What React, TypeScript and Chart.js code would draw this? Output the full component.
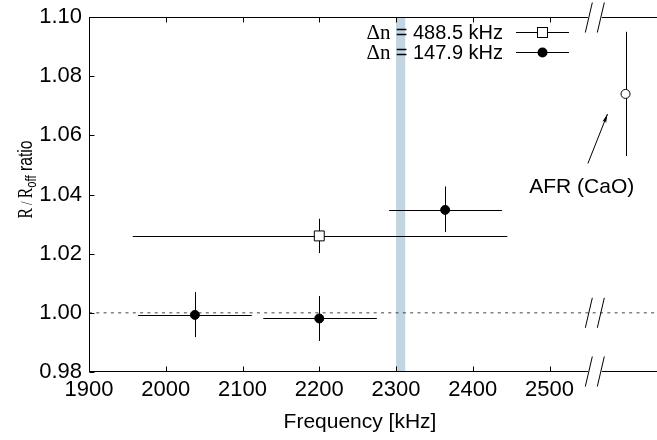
import React, { useEffect, useRef } from "react";
import { Chart, registerables } from "chart.js";
Chart.register(...registerables);

// ---- data ----
const wideFreq = [2200];
const wideRatio = [1.026];
const wideFreqLo = [1957];
const wideFreqHi = [2445];
const wideRatioLo = [1.0202];
const wideRatioHi = [1.0318];

const narrowFreq = [2038, 2200, 2364];
const narrowRatio = [0.9993, 0.9981, 1.0348];
const narrowFreqLo = [1964, 2127, 2291];
const narrowFreqHi = [2112, 2275, 2438];
const narrowRatioLo = [0.9918, 0.9905, 1.0273];
const narrowRatioHi = [1.007, 1.0057, 1.0427];

const afrFreq = [2599];
const afrRatio = [1.074];
const afrRatioLo = [1.053];
const afrRatioHi = [1.095];

const bandRange = [2300, 2312];
const referenceRatio = 1.0;
const xTickValues = [1900, 2000, 2100, 2200, 2300, 2400, 2500];
const yTickValues = [0.98, 1.0, 1.02, 1.04, 1.06, 1.08, 1.1];
const xRange = [1900, 2640];
const yRange = [0.98, 1.1];
const axisBreak = 2559;
const legendLabels = ["488.5 kHz", "147.9 kHz"];
const afrLabel = "AFR (CaO)";
const afrLabelPos = [2542, 1.0425];
const afrArrowTail = [2550, 1.0505];
const afrArrowHead = [2575.5, 1.0672];
const xTitle = "Frequency [kHz]";

const SANS = '"Liberation Sans", Arial, Helvetica, sans-serif';
const SERIF = '"Liberation Serif", "Times New Roman", serif';

const overlay = {
  id: "overlay",
  beforeDatasetsDraw(chart: any) {
    const { ctx, chartArea: ca } = chart;
    const x = chart.scales.x;
    const y = chart.scales.y;
    ctx.save();
    // shaded band
    ctx.fillStyle = "rgb(194,213,226)";
    const b0 = x.getPixelForValue(bandRange[0]);
    const b1 = x.getPixelForValue(bandRange[1]);
    ctx.fillRect(b0, ca.top, b1 - b0, ca.bottom - ca.top);

    // error bars
    ctx.strokeStyle = "#000";
    ctx.lineWidth = 1;
    const line = (x0: number, y0: number, x1: number, y1: number) => {
      ctx.beginPath();
      ctx.moveTo(x0, y0);
      ctx.lineTo(x1, y1);
      ctx.stroke();
    };
    const hbar = (lo: number, hi: number, v: number) => {
      const py = Math.round(y.getPixelForValue(v)) + 0.5;
      line(x.getPixelForValue(lo), py, x.getPixelForValue(hi), py);
    };
    const vbar = (f: number, lo: number, hi: number) => {
      const px = Math.round(x.getPixelForValue(f)) + 0.5;
      line(px, y.getPixelForValue(lo), px, y.getPixelForValue(hi));
    };
    wideFreq.forEach((f, i) => {
      hbar(wideFreqLo[i], wideFreqHi[i], wideRatio[i]);
      vbar(f, wideRatioLo[i], wideRatioHi[i]);
    });
    narrowFreq.forEach((f, i) => {
      hbar(narrowFreqLo[i], narrowFreqHi[i], narrowRatio[i]);
      vbar(f, narrowRatioLo[i], narrowRatioHi[i]);
    });
    afrFreq.forEach((f, i) => {
      vbar(f, afrRatioLo[i], afrRatioHi[i]);
    });
    ctx.restore();
  },
  afterDatasetsDraw(chart: any) {
    const { ctx, chartArea: ca } = chart;
    const x = chart.scales.x;
    const y = chart.scales.y;
    ctx.save();
    ctx.strokeStyle = "#000";
    ctx.fillStyle = "#000";
    ctx.lineWidth = 1;
    const line = (x0: number, y0: number, x1: number, y1: number) => {
      ctx.beginPath();
      ctx.moveTo(x0, y0);
      ctx.lineTo(x1, y1);
      ctx.stroke();
    };
    const L = Math.round(ca.left) + 0.5;
    const T = Math.round(ca.top) + 0.5;
    const B = Math.round(ca.bottom) - 0.5;
    const R = chart.width;
    const bx = x.getPixelForValue(axisBreak);
    // axes with break gap
    line(L, ca.top, L, ca.bottom);
    line(L, T, bx - 7, T);
    line(bx + 7, T, R, T);
    line(L, B, bx - 7, B);
    line(bx + 7, B, R, B);
    // inward ticks
    xTickValues.forEach((v) => {
      const px = Math.round(x.getPixelForValue(v)) + 0.5;
      line(px, B, px, B - 5);
      line(px, T, px, T + 5);
    });
    yTickValues.forEach((v) => {
      const py = Math.round(y.getPixelForValue(v)) + 0.5;
      line(L, py, L + 5, py);
    });
    // break marks
    const slash = (cy: number) => {
      [-6, 6].forEach((d) => line(bx + d - 3.5, cy + 15, bx + d + 3.5, cy - 15));
    };
    slash(T);
    slash(B);
    slash(y.getPixelForValue(referenceRatio));

    // legend
    const legendRight = 503;
    const rows = [ca.top + 15, ca.top + 35];
    rows.forEach((ly, i) => {
      ctx.textBaseline = "alphabetic";
      ctx.textAlign = "left";
      ctx.font = `20px ${SANS}`;
      const sansText = "= " + legendLabels[i];
      const wS = ctx.measureText(sansText).width;
      ctx.fillText(sansText, legendRight - wS, ly + 7);
      ctx.font = `21px ${SERIF}`;
      const serifText = "Δn ";
      const wD = ctx.measureText(serifText).width;
      ctx.fillText(serifText, legendRight - wS - wD, ly + 7);
      const sy = Math.round(ly) + 0.5;
      line(516, sy, 569, sy);
      const mx = 542.5;
      if (i === 0) {
        ctx.fillStyle = "#fff";
        ctx.fillRect(mx - 5, sy - 5, 10, 10);
        ctx.strokeRect(mx - 5, sy - 5, 10, 10);
        ctx.fillStyle = "#000";
      } else {
        ctx.beginPath();
        ctx.arc(mx, sy, 5, 0, Math.PI * 2);
        ctx.fill();
      }
    });

    // annotation
    ctx.font = `21px ${SANS}`;
    ctx.textAlign = "center";
    ctx.textBaseline = "middle";
    ctx.fillText(afrLabel, x.getPixelForValue(afrLabelPos[0]), y.getPixelForValue(afrLabelPos[1]));
    const tx = x.getPixelForValue(afrArrowTail[0]);
    const ty = y.getPixelForValue(afrArrowTail[1]);
    const hx = x.getPixelForValue(afrArrowHead[0]);
    const hy = y.getPixelForValue(afrArrowHead[1]);
    line(tx, ty, hx, hy);
    const ang = Math.atan2(hy - ty, hx - tx);
    const hl = 9;
    ctx.beginPath();
    ctx.moveTo(hx, hy);
    ctx.lineTo(hx - hl * Math.cos(ang - 0.22), hy - hl * Math.sin(ang - 0.22));
    ctx.lineTo(hx - hl * 0.8 * Math.cos(ang), hy - hl * 0.8 * Math.sin(ang));
    ctx.lineTo(hx - hl * Math.cos(ang + 0.22), hy - hl * Math.sin(ang + 0.22));
    ctx.closePath();
    ctx.fill();

    // x title
    ctx.font = `21px ${SANS}`;
    ctx.textAlign = "center";
    ctx.textBaseline = "alphabetic";
    ctx.fillText(xTitle, ca.left + 271, ca.bottom + 56);

    // y title  R/R_off ratio
    ctx.save();
    ctx.translate(32, (ca.top + ca.bottom) / 2 - 15);
    ctx.rotate(-Math.PI / 2);
    ctx.scale(0.75, 1);
    const parts = [
      { t: "R", f: `21px ${SERIF}`, dy: 0 },
      { t: " / ", f: `17px ${SERIF}`, dy: 0 },
      { t: "R", f: `21px ${SERIF}`, dy: 0 },
      { t: "off", f: `15px ${SANS}`, dy: 4 },
      { t: " ratio", f: `21px ${SANS}`, dy: 0 },
    ];
    let total = 0;
    parts.forEach((p) => {
      ctx.font = p.f;
      total += ctx.measureText(p.t).width;
    });
    let cx = -total / 2;
    ctx.textAlign = "left";
    ctx.textBaseline = "alphabetic";
    parts.forEach((p) => {
      ctx.font = p.f;
      ctx.fillText(p.t, cx, p.dy);
      cx += ctx.measureText(p.t).width;
    });
    ctx.restore();

    ctx.restore();
  },
};

export default function App() {
  const ref = useRef<HTMLCanvasElement>(null);
  useEffect(() => {
    document.body.style.margin = "0";
    const canvas = ref.current;
    if (!canvas) return;
    const chart = new Chart(canvas, {
      type: "scatter",
      data: {
        datasets: [
          {
            label: "wide",
            data: wideFreq.map((f, i) => ({ x: f, y: wideRatio[i] })),
            pointStyle: "rect",
            pointRadius: 7,
            pointBackgroundColor: "#fff",
            pointBorderColor: "#000",
            pointBorderWidth: 1,
            order: 1,
          },
          {
            label: "narrow",
            data: narrowFreq.map((f, i) => ({ x: f, y: narrowRatio[i] })),
            pointStyle: "circle",
            pointRadius: 4.5,
            pointBackgroundColor: "#000",
            pointBorderColor: "#000",
            pointBorderWidth: 1,
            order: 1,
          },
          {
            label: "afr",
            data: afrFreq.map((f, i) => ({ x: f, y: afrRatio[i] })),
            pointStyle: "circle",
            pointRadius: 4.5,
            pointBackgroundColor: "#fff",
            pointBorderColor: "#000",
            pointBorderWidth: 1,
            order: 1,
          },
          {
            type: "line",
            label: "reference",
            data: [
              { x: xRange[0], y: referenceRatio },
              { x: xRange[1], y: referenceRatio },
            ],
            borderColor: "#444",
            borderWidth: 1,
            borderDash: [3, 4.3],
            pointRadius: 0,
            showLine: true,
            order: 10,
          } as any,
        ],
      },
      options: {
        animation: false,
        responsive: false,
        maintainAspectRatio: false,
        layout: { autoPadding: false, padding: { top: 17, right: 0, left: 0, bottom: 0 } },
        plugins: { legend: { display: false }, tooltip: { enabled: false } },
        scales: {
          x: {
            type: "linear",
            min: xRange[0],
            max: xRange[1],
            grid: { display: false, drawTicks: false },
            border: { display: false },
            afterBuildTicks: (s: any) => {
              s.ticks = xTickValues.map((v) => ({ value: v }));
            },
            afterFit: (s: any) => {
              s.height = 68;
              s.paddingLeft = 0;
              s.paddingRight = 0;
            },
            ticks: {
              font: { family: SANS, size: 22 },
              color: "#000",
              padding: 5,
              maxRotation: 0,
              autoSkip: false,
              callback: (v: any) => String(v),
            },
          },
          y: {
            type: "linear",
            min: yRange[0],
            max: yRange[1],
            grid: { display: false, drawTicks: false },
            border: { display: false },
            afterBuildTicks: (s: any) => {
              s.ticks = yTickValues.map((v) => ({ value: v }));
            },
            afterFit: (s: any) => {
              s.width = 89;
              s.paddingTop = 0;
              s.paddingBottom = 0;
            },
            ticks: {
              font: { family: SANS, size: 22 },
              color: "#000",
              padding: 7,
              autoSkip: false,
              callback: (v: any) => Number(v).toFixed(2),
            },
          },
        },
      },
      plugins: [overlay],
    });
    return () => chart.destroy();
  }, []);
  return (
    <div style={{ width: 657, height: 440 }}>
      <canvas ref={ref} width={657} height={440} style={{ display: "block" }} />
    </div>
  );
}
